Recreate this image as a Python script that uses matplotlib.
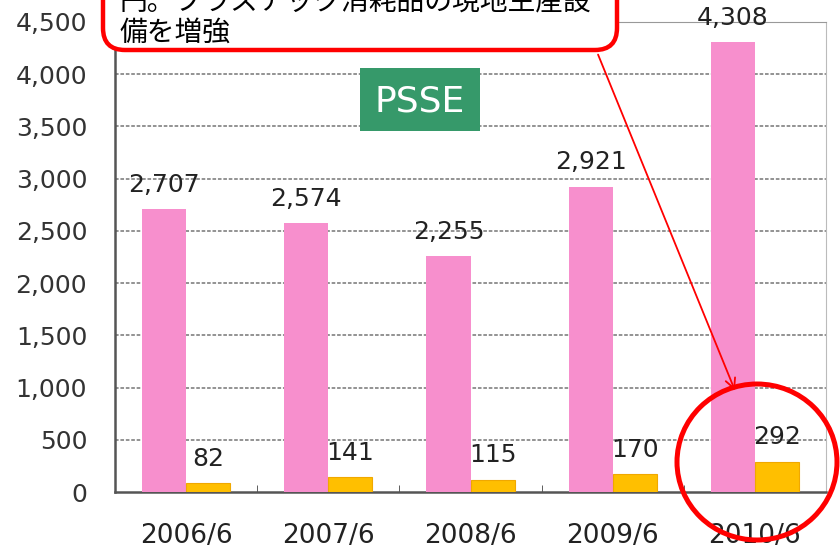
import numpy as np
import matplotlib.pyplot as plt
from matplotlib import patches

plt.rcParams['font.family'] = ['DejaVu Sans']

years = ['2006/6', '2007/6', '2008/6', '2009/6', '2010/6']
sales = [2707, 2574, 2255, 2921, 4308]
profit = [82, 141, 115, 170, 292]
yticks = [0, 500, 1000, 1500, 2000, 2500, 3000, 3500, 4000, 4500]
callout = '円。プラスチック消耗品の現地生産設\n備を増強'

fig = plt.figure(figsize=(8.4, 5.51), dpi=100)
ax = fig.add_axes([115/840, 59/551, 711/840, 470/551])

x = np.arange(len(years))
w = 0.31
b1 = ax.bar(x - w/2, sales, w, color='#f78fcd', zorder=3)
b2 = ax.bar(x + w/2, profit, w, color='#ffbf00', edgecolor='#f0a800', lw=0.8, zorder=3)

for bars, vals in [(b1, sales), (b2, profit)]:
    for r, v in zip(bars, vals):
        ax.annotate(f'{v:,}', (r.get_x() + r.get_width()/2, v), xytext=(0, 9),
                    textcoords='offset points', ha='center', va='bottom',
                    fontsize=18, color='#222222', zorder=4)

ax.set_xlim(-0.5, len(years) - 0.5)
ax.set_ylim(0, 4500)
ax.set_yticks(yticks)
ax.set_yticklabels([f'{t:,}' for t in yticks], fontsize=18, color='#333333')
ax.set_xticks(x)
ax.set_xticklabels(years, fontsize=19, color='#222222')
ax.set_xticks(x[:-1] + 0.5, minor=True)
ax.tick_params(axis='y', length=0, pad=20)
ax.tick_params(axis='x', which='major', length=0, pad=22)
ax.tick_params(axis='x', which='minor', direction='in', length=5, color='#444444')

for t in yticks[1:-1]:
    ax.axhline(t, color='#8a8a8a', lw=1.3, ls=(0, (2, 1)), zorder=1)

ax.spines['left'].set_color('#555555')
ax.spines['left'].set_linewidth(1.8)
ax.spines['bottom'].set_color('#555555')
ax.spines['bottom'].set_linewidth(1.8)
ax.spines['top'].set_color('#999999')
ax.spines['right'].set_color('#bbbbbb')

# overlay in pixel coordinates
ov = fig.add_axes([0, 0, 1, 1], facecolor='none')
ov.set_xlim(0, 840)
ov.set_ylim(551, 0)
ov.axis('off')

ov.add_patch(patches.FancyBboxPatch((103, -40), 514, 90,
             boxstyle='round,pad=0,rounding_size=22',
             facecolor='white', edgecolor='#ff0000', lw=3.2))
for i, line in enumerate(callout.split('\n')):
    ov.text(119, 2 + 31 * i, line, fontsize=20, va='center', ha='left',
            family=['Noto Sans CJK JP', 'DejaVu Sans'], color='black')

ov.annotate('', xy=(736, 393), xytext=(597, 52),
            arrowprops=dict(arrowstyle='->', color='#ff0000', lw=1.3, mutation_scale=18))

ov.add_patch(patches.Rectangle((360, 68), 120, 63, facecolor='#36996a', edgecolor='none'))
ov.text(420, 101, 'PSSE', fontsize=26, color='white', ha='center', va='center')

ov.add_patch(patches.Ellipse((757, 462), 160, 156, facecolor='none',
                             edgecolor='#ff0000', lw=3.6))

fig.savefig('out.png', dpi=100)
